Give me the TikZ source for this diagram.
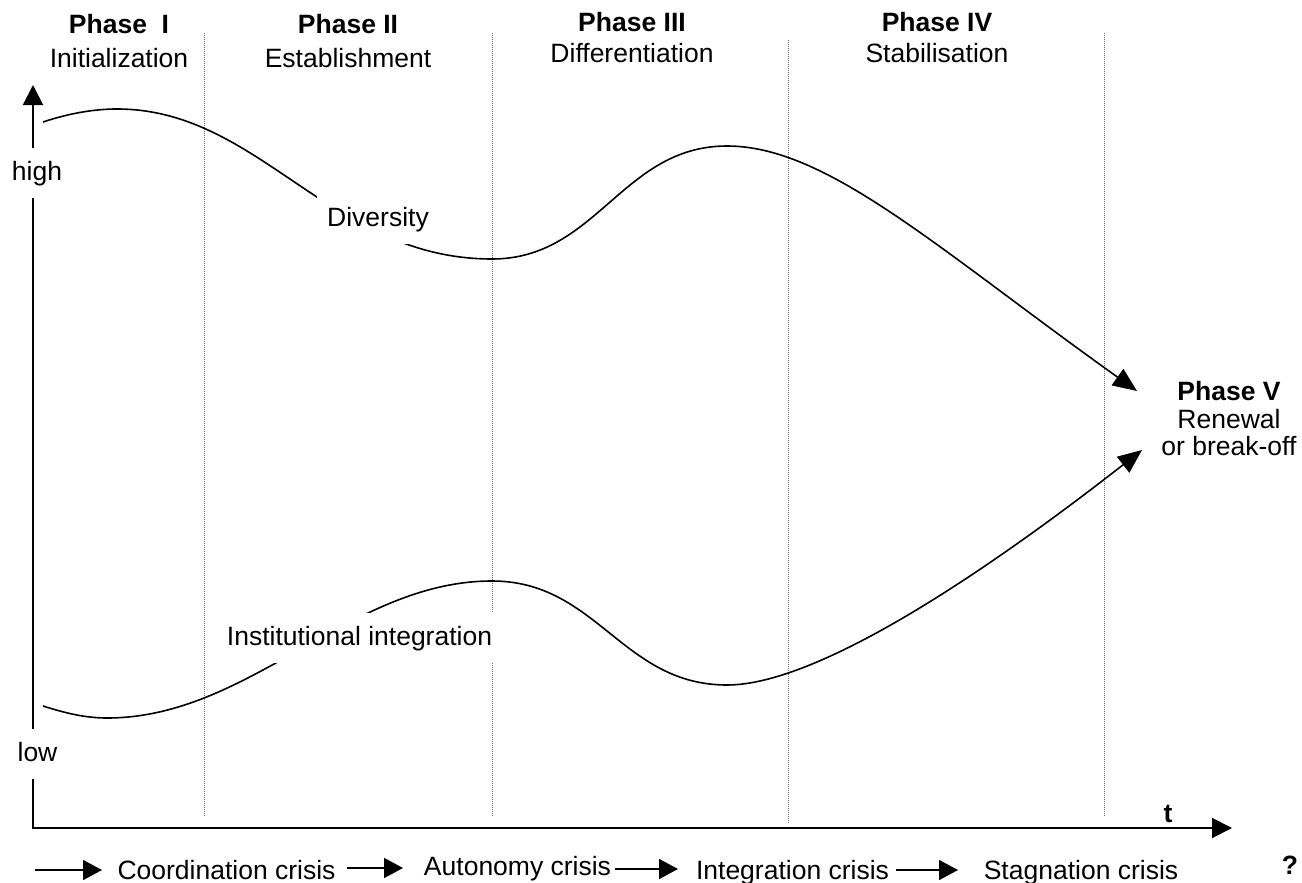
\documentclass[tikz,border=0pt]{standalone}
\usepackage{fontspec}
\setmainfont{Liberation Sans}
\usetikzlibrary{arrows.meta}
\begin{document}
\begin{tikzpicture}[x=1pt,y=-1pt,
  every node/.style={font=\fontsize{26.5}{30}\selectfont, inner sep=0pt},
  lbl/.style={anchor=base},
  hdr/.style={anchor=base, font=\fontsize{26.5}{30}\selectfont\bfseries},
  cover/.style={anchor=base, fill=white, inner xsep=10pt, inner ysep=13pt, text height=19pt, text depth=5pt},
  axisline/.style={line width=2pt},
  curveline/.style={line width=1.6pt, -{Triangle[length=24pt,width=20pt]}},
  phaseline/.style={line width=1pt, black!60, dash pattern=on 1pt off 1pt},
  crisisarrow/.style={line width=1.6pt, -{Triangle[length=19pt,width=20pt]}}]

\fill[white] (0,0) rectangle (1302,883);
\useasboundingbox (0,0) rectangle (1302,883);

% phase separators
\coordinate (d1t) at (204,33);  \coordinate (d1b) at (204,817);
\coordinate (d2t) at (492,33);  \coordinate (d2b) at (492,817);
\coordinate (d3t) at (788,40);  \coordinate (d3b) at (788,823);
\coordinate (d4t) at (1104,33); \coordinate (d4b) at (1104,817);
\draw[phaseline] (d1t) -- (d1b);
\draw[phaseline] (d2t) -- (d2b);
\draw[phaseline] (d3t) -- (d3b);
\draw[phaseline] (d4t) -- (d4b);

% axes
\coordinate (O) at (33,828);
\coordinate (Ytip) at (33,85);
\coordinate (Xtip) at (1232,828);
\draw[axisline, {Triangle[length=20pt,width=20pt]}-{Triangle[length=20pt,width=20pt]}] (Ytip) -- (O) -- (Xtip);

% diversity curve
\coordinate (dv0) at (43,122);
\coordinate (dv1) at (117,109);
\coordinate (dv2) at (492,259);
\coordinate (dv3) at (727,146);
\coordinate (dv4) at (1137,391);
\draw[curveline] (dv0) .. controls (70,113) and (95,109) .. (dv1)
  .. controls (260,109) and (330,259) .. (dv2)
  .. controls (597,259) and (622,146) .. (dv3)
  .. controls (827,146) and (937,248.4) .. (dv4);

% institutional integration curve
\coordinate (in0) at (43,706);
\coordinate (in1) at (107,718);
\coordinate (in2) at (492,581);
\coordinate (in3) at (727,685);
\coordinate (in4) at (1142,450);
\draw[curveline] (in0) .. controls (65,713) and (85,718) .. (in1)
  .. controls (250,718) and (350,581) .. (in2)
  .. controls (597,581) and (622,685) .. (in3)
  .. controls (817,685) and (982,575) .. (in4);

% covered labels
\node[cover] (div) at (378,226) {Diversity};
\node[cover] (inst) at (359.5,645) {Institutional integration};
\node[cover] (high) at (37,180) {high};
\node[cover] (low) at (37.5,761) {low};

% phase headers
\node[hdr] (p1) at (119,34) {Phase\ \ I};
\node[lbl] (p1s) at (119,68) {Initialization};
\node[hdr] (p2) at (348,34) {Phase II};
\node[lbl] (p2s) at (348,68) {Establishment};
\node[hdr] (p3) at (632,32) {Phase III};
\node[lbl] (p3s) at (632,63) {Differentiation};
\node[hdr] (p4) at (937,32) {Phase IV};
\node[lbl] (p4s) at (937,63) {Stabilisation};
\node[hdr] (p5) at (1229,400) {Phase V};
\node[lbl] (p5a) at (1229,428) {Renewal};
\node[lbl] (p5b) at (1229,455) {or break-off};

\node[hdr] (t) at (1168,822) {t};

% crises
\node[lbl] (c1) at (226.5,879) {Coordination crisis};
\node[lbl] (c2) at (517.5,875) {Autonomy crisis};
\node[lbl] (c3) at (792.5,879) {Integration crisis};
\node[lbl] (c4) at (1081,879) {Stagnation crisis};
\node[hdr] (q) at (1290,874) {?};

\coordinate (a1s) at (35,870);  \coordinate (a1e) at (102,870);
\coordinate (a2s) at (347,868); \coordinate (a2e) at (403,868);
\coordinate (a3s) at (615,869); \coordinate (a3e) at (678,869);
\coordinate (a4s) at (896,870); \coordinate (a4e) at (958,870);
\draw[crisisarrow] (a1s) -- (a1e);
\draw[crisisarrow] (a2s) -- (a2e);
\draw[crisisarrow] (a3s) -- (a3e);
\draw[crisisarrow] (a4s) -- (a4e);
\end{tikzpicture}
\end{document}
